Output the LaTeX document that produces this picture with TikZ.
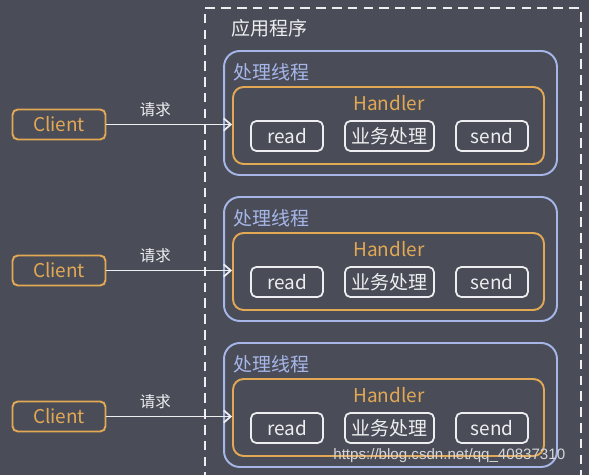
\documentclass[tikz,border=0pt]{standalone}
\usepackage{fontspec}
\setmainfont{Noto Sans CJK SC}
\newfontfamily\markfont{Liberation Sans}
\usepackage{xcolor}
\usetikzlibrary{arrows.meta,calc,positioning}
\definecolor{bgdark}{RGB}{74,77,88}
\definecolor{handlerorange}{RGB}{226,168,84}
\definecolor{threadblue}{RGB}{166,182,232}
\definecolor{boxwhite}{RGB}{238,238,240}
\tikzset{
  appframe/.style={draw=boxwhite, line width=1.1pt, dash pattern=on 5.5pt off 3.5pt},
  threadbox/.style={draw=threadblue, line width=1.1pt, rounded corners=9pt,
                    minimum width=6.66cm, minimum height=2.48cm},   % 处理线程
  handlerbox/.style={draw=handlerorange, line width=1.1pt, rounded corners=6pt,
                     minimum width=6.22cm, minimum height=1.54cm},
  stepbox/.style={draw=boxwhite, text=boxwhite, line width=1pt, rounded corners=3pt,
                  minimum height=0.6cm, inner sep=2pt, font=\fontsize{10.8}{12}\selectfont},
  clientbox/.style={draw=handlerorange, text=handlerorange, line width=1.1pt, rounded corners=3pt,
                    minimum width=1.86cm, minimum height=0.6cm, font=\fontsize{10.8}{12}\selectfont},
  reqArrow/.style={-{Straight Barb[length=4pt,width=7pt]}, draw=boxwhite, line width=1pt},
  tag/.style={inner sep=0pt, font=\fontsize{10.8}{12}\selectfont}
}

\begin{document}
\begin{tikzpicture}[x=0.02cm,y=-0.02cm]
  \fill[bgdark] (0,0) rectangle (589,475);
  \useasboundingbox (0,0) rectangle (589,475);
  % application frame (open at the bottom)
  \draw[appframe] (205,482) -- (205,8) -- (581,8) -- (581,482);
  \node[tag, text=boxwhite, anchor=west] (app) at (231,28) {应用程序};
  \foreach \i in {0,1,2}{
    \pgfmathsetmacro{\dy}{146*\i}
    \node[threadbox] (T\i) at (390.5,{113+\dy}) {};
    \node[tag, text=threadblue, anchor=west] (TL\i) at (233,{72+\dy}) {处理线程};
    \node[tag, text=handlerorange] (HL\i) at (389,{103+\dy}) {Handler};
    \node[handlerbox] (H\i) at (388.5,{125.5+\dy}) {};
    \node[stepbox, minimum width=1.44cm] (R\i) at (287,{136+\dy}) {read};
    \node[stepbox, minimum width=1.78cm] (B\i) at (389.5,{136+\dy}) {业务处理};
    \node[stepbox, minimum width=1.44cm] (S\i) at (492,{136+\dy}) {send};
    \node[clientbox] (C\i) at (59,{124.5+\dy}) {Client};
    \draw[reqArrow] (C\i.east) -- (C\i.east -| H\i.west)
      node[pos=0.39, above=4pt, text=boxwhite, inner sep=0pt, font=\fontsize{8.8}{10}\selectfont] (Q\i) {请求};
  }
  % watermark
  \node[anchor=west, inner sep=0pt, text=boxwhite!85!bgdark, font=\markfont\fontsize{8.6}{10}\selectfont]
    (mark) at (333,456) {https://blog.csdn.net/qq\_40837310};
\end{tikzpicture}
\end{document}
